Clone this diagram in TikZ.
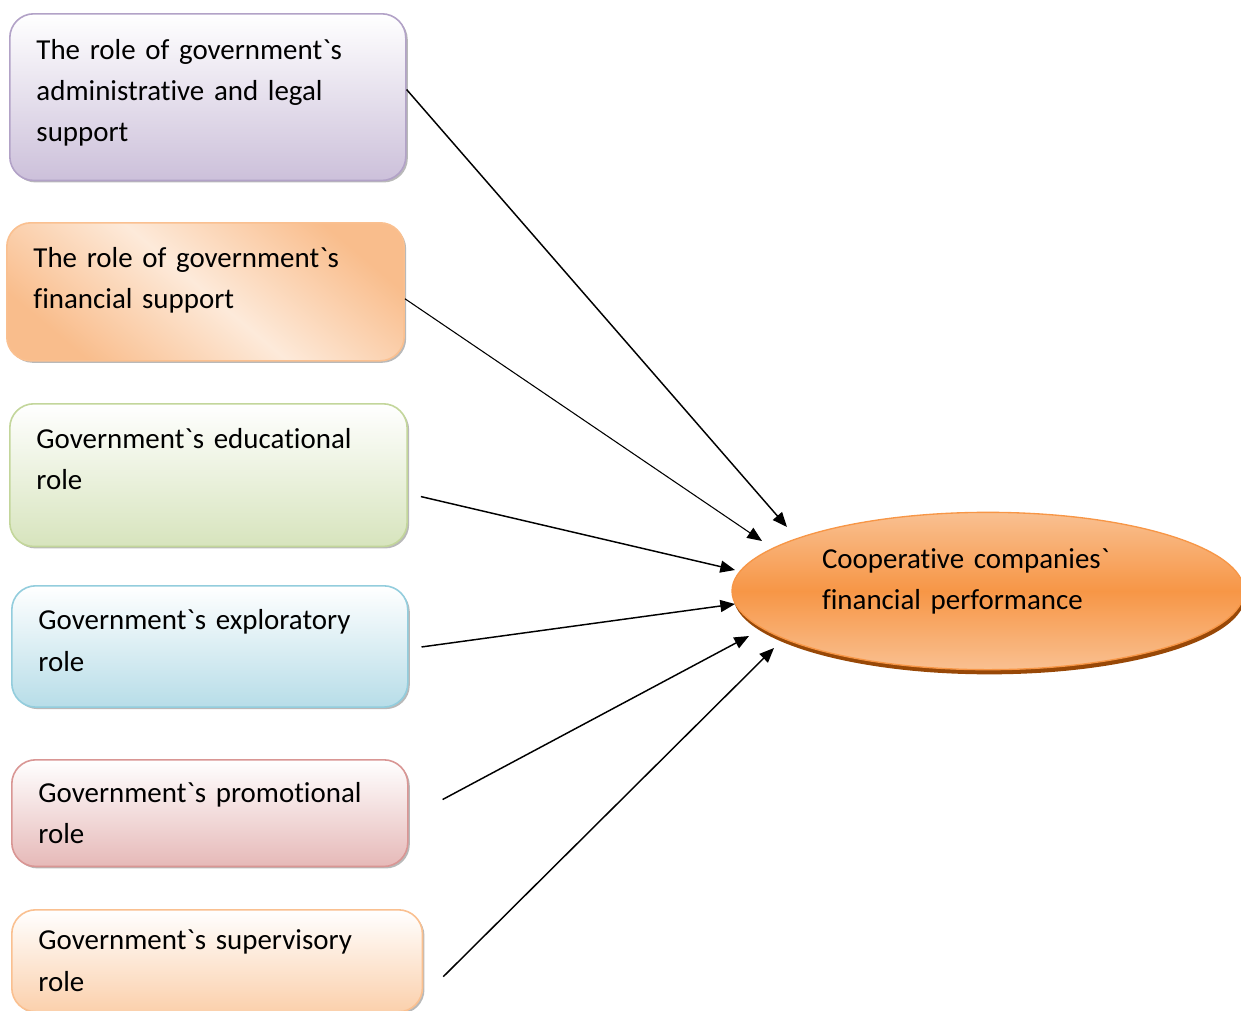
\documentclass[tikz,border=0pt]{standalone}
\usepackage{fontspec}
\usepackage{xcolor}
\usepackage{tikz}
\usetikzlibrary{arrows.meta,shadows,shapes.geometric}
\newfontfamily\calfont{Carlito}[Ligatures=NoCommon]
% extra depth below the last line, lifts the text inside its shape
\newcommand\padbelow[1]{\rule[-#1]{0pt}{0pt}}

\definecolor{lilacEdge}{RGB}{178,162,199}
\definecolor{lilacBot}{RGB}{204,192,218}
\definecolor{peachEdge}{RGB}{250,192,144}
\definecolor{peachDeep}{RGB}{249,189,140}
\definecolor{peachLight}{RGB}{253,234,218}
\definecolor{sageEdge}{RGB}{195,214,155}
\definecolor{sageBot}{RGB}{215,228,189}
\definecolor{aquaEdge}{RGB}{147,205,221}
\definecolor{aquaBot}{RGB}{183,221,232}
\definecolor{roseEdge}{RGB}{217,150,148}
\definecolor{roseBot}{RGB}{230,185,184}
\definecolor{apricotBot}{RGB}{251,208,172}
\definecolor{perfOrange}{RGB}{247,150,70}
\definecolor{perfLight}{RGB}{249,192,145}
\definecolor{perfShadow}{RGB}{152,72,7}

\tikzset{
  rolebox/.style={draw, line width=1.2pt, rounded corners=18pt, anchor=north west,
    align=left, text width=257pt, inner xsep=20pt, inner ysep=0pt,
    font=\calfont\fontsize{21.7}{31.1}\selectfont,
    drop shadow={shadow xshift=1.5pt, shadow yshift=-1.5pt, fill=black!50, opacity=0.55}},
  perfell/.style={ellipse, draw=perfOrange, line width=1pt, inner sep=0pt,
    minimum width=384pt, minimum height=118pt, align=left, text width=249pt,
    top color=perfLight, bottom color=perfLight, middle color=perfOrange,
    font=\calfont\fontsize{21.7}{31.1}\selectfont,
    drop shadow={shadow xshift=1pt, shadow yshift=-3.5pt, fill=perfShadow, opacity=1}},
  linkarrow/.style={-{Triangle[length=11pt,width=9pt]}, line width=1.1pt},
}

\begin{document}
\begin{tikzpicture}[x=0.75pt,y=0.75pt,yscale=-1,xscale=1]
\useasboundingbox (0,0) rectangle (1241,1010);

%Shape: Rounded Rect [id:admin]
\node [rolebox, draw=lilacEdge, top color=white, bottom color=lilacBot, minimum height=125pt] (admin) at (9,13) {The role of government`s\\administrative and legal\\support\padbelow{10pt}};
%Shape: Rounded Rect [id:fin]
\node [rolebox, draw=peachEdge, top color=peachDeep, bottom color=peachDeep, middle color=peachLight, shading angle=-40, text width=258pt, minimum height=103.5pt] (fin) at (6,222) {The role of government`s\\financial support\padbelow{20.5pt}};
%Shape: Rounded Rect [id:edu]
\node [rolebox, draw=sageEdge, top color=white, bottom color=sageBot, text width=258pt, minimum height=107pt] (edu) at (9,403) {Government`s educational\\role\padbelow{24pt}};
%Shape: Rounded Rect [id:explore]
\node [rolebox, draw=aquaEdge, top color=white, bottom color=aquaBot, minimum height=91pt] (explore) at (11,585) {Government`s exploratory\\role\padbelow{9pt}};
%Shape: Rounded Rect [id:promo]
\node [rolebox, draw=roseEdge, top color=white, bottom color=roseBot, minimum height=80pt] (promo) at (11,759) {Government`s promotional\\role};
%Shape: Rounded Rect [id:super]
\node [rolebox, draw=peachEdge, top color=white, bottom color=apricotBot, text width=268pt, minimum height=76.5pt] (super) at (11,909) {Government`s supervisory\\role};

%Shape: Ellipse [id:perf]
\node [perfell] (perf) at (988,591) {Cooperative companies`\\financial performance\padbelow{18pt}};

% Arrow tips
\coordinate (tip1) at (787,527);
\coordinate (tip2) at (762,541);
\coordinate (tip3) at (735,570);
\coordinate (tip4) at (735,604);
\coordinate (tip5) at (749,636);
\coordinate (tip6) at (774,648);

%Straight Lines
\draw [linkarrow] ([yshift=-5.7pt]admin.east) -- (tip1);
\draw [linkarrow, line width=0.8pt] ([yshift=5.2pt]fin.east) -- (tip2);
\draw [linkarrow, shorten <=10pt] ([yshift=13.8pt]edu.east) -- (tip3);
\draw [linkarrow, shorten <=9.8pt] ([yshift=1.7pt]explore.east) -- (tip4);
\draw [linkarrow, shorten <=28.9pt] ([yshift=3.4pt]promo.east) -- (tip5);
\draw [linkarrow, shorten <=21.1pt] ([yshift=26.8pt]super.east) -- (tip6);

\end{tikzpicture}
\end{document}
